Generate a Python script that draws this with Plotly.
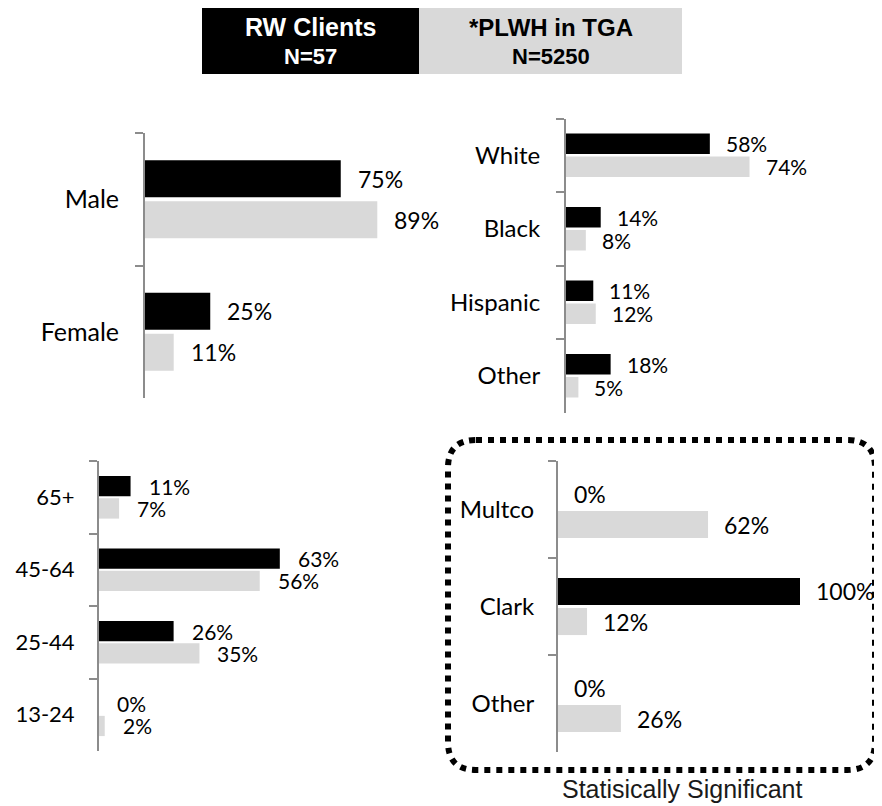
import plotly.graph_objects as go

# The page body has an 8px margin, so the figure is drawn 8px in and sized to fit the window.
OFF = 8
W, H = 882 - OFF, 806 - OFF

# ---------------- data ----------------
series_names = ["RW Clients", "*PLWH in TGA"]
series_n = ["N=57", "N=5250"]

gender_cats = ["Male", "Female"]
gender_rw = [75, 25]
gender_plwh = [89, 11]

race_cats = ["White", "Black", "Hispanic", "Other"]
race_rw = [58, 14, 11, 18]
race_plwh = [74, 8, 12, 5]

age_cats = ["65+", "45-64", "25-44", "13-24"]
age_rw = [11, 63, 26, 0]
age_plwh = [7, 56, 35, 2]

county_cats = ["Multco", "Clark", "Other"]
county_rw = [0, 100, 0]
county_plwh = [62, 12, 26]

footnote = "Statisically Significant"

# ---------------- styling ----------------
BLACK = "#000000"
GRAY = "#d9d9d9"
AXIS = "#8c8c8c"
LABEL_FONT = "Lato, Carlito, Calibri, sans-serif"
HEAD_FONT = "Liberation Sans, Arial, sans-serif"
BARGAP = 0.38
BARGROUPGAP = 0.1


def fx(x):
    return (x - OFF) / W


def fy(y):
    return 1 - (y - OFF) / H


panels = [
    dict(cats=gender_cats, rw=gender_rw, pl=gender_plwh, left=145, scale=2.61,
         top=133, bottom=398, xmax=110, tf=25, vf=23, shift=15, stand=19),
    dict(cats=race_cats, rw=race_rw, pl=race_plwh, left=566, scale=2.48,
         top=118.5, bottom=412.5, xmax=110, tf=24, vf=21, shift=14, stand=19),
    dict(cats=age_cats, rw=age_rw, pl=age_plwh, left=99, scale=2.87,
         top=461, bottom=751, xmax=110, tf=22, vf=21, shift=16, stand=18),
    dict(cats=county_cats, rw=county_rw, pl=county_plwh, left=558, scale=2.42,
         top=461, bottom=752, xmax=125, tf=24, vf=23, shift=14, stand=17),
]

fig = go.Figure()
annotations = []
layout_axes = {}

for i, p in enumerate(panels, start=1):
    xa = "x" if i == 1 else f"x{i}"
    ya = "y" if i == 1 else f"y{i}"
    xkey = "xaxis" if i == 1 else f"xaxis{i}"
    ykey = "yaxis" if i == 1 else f"yaxis{i}"
    n = len(p["cats"])
    right = p["left"] + p["scale"] * p["xmax"]

    fig.add_trace(go.Bar(
        x=p["rw"], y=p["cats"], orientation="h", name=series_names[0],
        marker=dict(color=BLACK, line=dict(width=0)), xaxis=xa, yaxis=ya,
        showlegend=False, hoverinfo="x+y"))
    fig.add_trace(go.Bar(
        x=p["pl"], y=p["cats"], orientation="h", name=series_names[1],
        marker=dict(color=GRAY, line=dict(width=0)), xaxis=xa, yaxis=ya,
        showlegend=False, hoverinfo="x+y"))

    layout_axes[xkey] = dict(
        domain=[fx(p["left"]), fx(right)], range=[0, p["xmax"]],
        anchor=ya, visible=False, fixedrange=True)
    layout_axes[ykey] = dict(
        domain=[fy(p["bottom"]), fy(p["top"])], anchor=xa,
        type="category", categoryorder="array", categoryarray=p["cats"],
        range=[n - 0.5, -0.5], tickson="boundaries", ticks="outside",
        ticklen=8, tickwidth=2, tickcolor=AXIS, showline=True,
        linecolor=AXIS, linewidth=2, showgrid=False, zeroline=False,
        ticklabelstandoff=p["stand"],
        tickfont=dict(family=LABEL_FONT, size=p["tf"], color="#000000"),
        fixedrange=True)

    off = (1 - BARGAP) / 4
    for j, c in enumerate(p["cats"]):
        for val, dy in ((p["rw"][j], -off), (p["pl"][j], off)):
            annotations.append(dict(
                x=val, y=j + dy, xref=xa, yref=ya, text=f"{val}%",
                showarrow=False, xanchor="left", yanchor="middle",
                xshift=p["shift"],
                font=dict(family=LABEL_FONT, size=p["vf"], color="#000000")))

# header legend boxes
shapes = [
    dict(type="rect", xref="paper", yref="paper", x0=fx(202), x1=fx(419),
         y0=fy(74), y1=1, fillcolor=BLACK, line=dict(width=0), layer="below"),
    dict(type="rect", xref="paper", yref="paper", x0=fx(419), x1=fx(682),
         y0=fy(74), y1=1, fillcolor=GRAY, line=dict(width=0), layer="below"),
]
head = [
    (310.5, 27, f"<b>{series_names[0]}</b>", 25, "#ffffff"),
    (310.5, 56, f"<b>{series_n[0]}</b>", 22, "#ffffff"),
    (550.5, 27, f"<b>{series_names[1]}</b>", 24, "#000000"),
    (550.5, 56, f"<b>{series_n[1]}</b>", 22, "#000000"),
]
for x, y, t, s, col in head:
    annotations.append(dict(x=fx(x), y=fy(y), xref="paper", yref="paper",
                            text=t, showarrow=False, xanchor="center",
                            yanchor="middle",
                            font=dict(family=HEAD_FONT, size=s, color=col)))

# dotted rounded rectangle around the significant panel
L, R, T, B, r = 448, 875, 440, 770, 28
path = (f"M {fx(L + r)},{fy(T)} L {fx(R - r)},{fy(T)} "
        f"Q {fx(R)},{fy(T)} {fx(R)},{fy(T + r)} L {fx(R)},{fy(B - r)} "
        f"Q {fx(R)},{fy(B)} {fx(R - r)},{fy(B)} L {fx(L + r)},{fy(B)} "
        f"Q {fx(L)},{fy(B)} {fx(L)},{fy(B - r)} L {fx(L)},{fy(T + r)} "
        f"Q {fx(L)},{fy(T)} {fx(L + r)},{fy(T)} Z")
shapes.append(dict(type="path", xref="paper", yref="paper", path=path,
                   line=dict(color=BLACK, width=6, dash="6px,6px"),
                   fillcolor="rgba(0,0,0,0)"))

annotations.append(dict(x=fx(682), y=fy(789), xref="paper", yref="paper",
                        text=footnote, showarrow=False, xanchor="center",
                        yanchor="middle",
                        font=dict(family=HEAD_FONT, size=25, color="#1a1a1a")))

fig.update_layout(
    width=W, height=H, margin=dict(l=0, r=0, t=0, b=0),
    paper_bgcolor="#ffffff", plot_bgcolor="rgba(0,0,0,0)",
    barmode="group", bargap=BARGAP, bargroupgap=BARGROUPGAP,
    showlegend=False, annotations=annotations, shapes=shapes,
    **layout_axes)

fig.update_traces(cliponaxis=False)

fig.write_html("out.html")
